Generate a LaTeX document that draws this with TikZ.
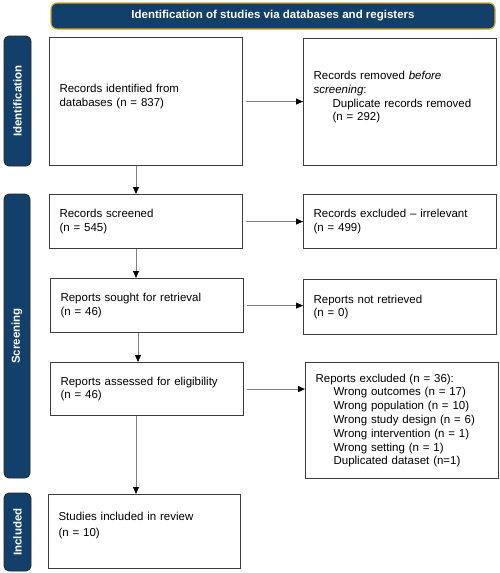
\documentclass[tikz,border=0pt]{standalone}
\usepackage{fontspec}
\setmainfont{Liberation Sans}
\usetikzlibrary{arrows.meta,calc}
\definecolor{pblue}{HTML}{133F6B}
\definecolor{pgold}{HTML}{D9A520}
\definecolor{pline}{HTML}{3C3C3C}
\definecolor{parrow}{HTML}{7F7F7F}
\newcommand{\padbelow}[1]{\rule[-#1]{0pt}{#1}}
\begin{document}
\begin{tikzpicture}[x=1pt,y=-1pt,
  font=\fontsize{11.5}{13.8}\selectfont,
  box/.style={draw=pline, line width=1.1pt, anchor=north west, align=left,
    inner xsep=10pt, inner ysep=0pt},
  sidebar/.style={draw=black!85, line width=0.8pt, fill=pblue, rounded corners=5pt,
    rotate=90, text=white, font=\fontsize{11.5}{14}\selectfont\bfseries, inner sep=0pt},
  banner/.style={draw=pgold, line width=1.2pt, fill=pblue, rounded corners=6pt,
    text=white, font=\fontsize{11.5}{14}\selectfont\bfseries, inner sep=0pt},
  arr/.style={draw=parrow, line width=0.9pt, -{Triangle[length=7pt,width=6pt,color=black]}}]
\useasboundingbox (0,0) rectangle (500,573);

% banner and side bars
\node[banner, minimum width=444pt, minimum height=26pt] (ban) at (273,16) {Identification of studies via databases and registers};
\node[sidebar, minimum width=130pt, minimum height=27pt] (s1) at (17.5,101) {Identification};
\node[sidebar, minimum width=284pt, minimum height=26pt] (s2) at (17,336) {Screening};
\node[sidebar, minimum width=78pt, minimum height=27pt] (s3) at (17.5,532) {Included};

% boxes
\node[box, minimum width=193pt, text width=173pt, minimum height=128pt] (b1) at (49,37)
  {Records identified from\\databases (n = 837)\padbelow{12pt}};
\node[box, minimum width=193pt, text width=173pt, minimum height=127pt] (b2) at (303,38)
  {Records removed \textit{before}\\\textit{screening}:\\\hspace*{19pt}Duplicate records removed\\\hspace*{19pt}(n = 292)\padbelow{12pt}};
\node[box, minimum width=193pt, text width=173pt, minimum height=54pt] (b3) at (49,194)
  {Records screened\\(n = 545)};
\node[box, minimum width=193pt, text width=173pt, minimum height=54pt] (b4) at (303,194)
  {Records excluded -- irrelevant\\(n = 499)};
\node[box, minimum width=193pt, text width=173pt, minimum height=54pt] (b5) at (50,278)
  {Reports sought for retrieval\\(n = 46)};
\node[box, minimum width=193pt, text width=173pt, minimum height=55pt] (b6) at (303,279)
  {Reports not retrieved\\(n = 0)};
\node[box, minimum width=193pt, text width=173pt, minimum height=53pt] (b7) at (50,362)
  {Reports assessed for eligibility\\(n = 46)};
\node[box, minimum width=193pt, text width=173pt, minimum height=116pt] (b8) at (305,362)
  {Reports excluded (n = 36):\\
   \hspace*{18pt}Wrong outcomes (n = 17)\\
   \hspace*{18pt}Wrong population (n = 10)\\
   \hspace*{18pt}Wrong study design (n = 6)\\
   \hspace*{18pt}Wrong intervention (n = 1)\\
   \hspace*{18pt}Wrong setting (n = 1)\\
   \hspace*{18pt}Duplicated dataset (n=1)};
\node[box, minimum width=192pt, text width=172pt, minimum height=74pt] (b9) at (48,494)
  {Studies included in review\\[2pt](n = 10)\padbelow{15pt}};

% connectors
\coordinate (c1) at (136,0);
\coordinate (c2) at (138,0);
\draw[arr, shorten <=3pt] (b1.east) -- (b1.east -| b2.west);
\draw[arr, shorten <=3pt] (b3.east) -- (b3.east -| b4.west);
\draw[arr, shorten <=3pt] (b5.east) -- (b5.east -| b6.west);
\draw[arr, shorten <=3pt] (b7.east) -- (b7.east -| b8.west);
\draw[arr] (b1.south -| c1) -- (b3.north -| c1);
\draw[arr] (b3.south -| c1) -- (b5.north -| c1);
\draw[arr] (b5.south -| c2) -- (b7.north -| c2);
\draw[arr] (b7.south -| c1) -- (b9.north -| c1);
\end{tikzpicture}
\end{document}
